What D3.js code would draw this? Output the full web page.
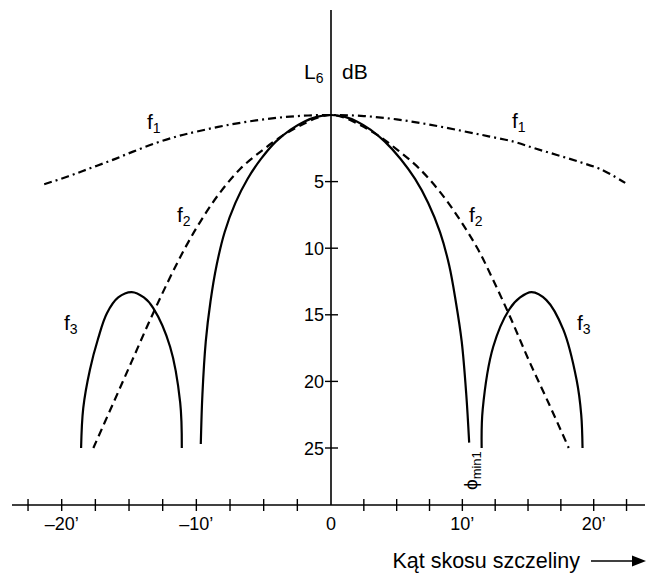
<!DOCTYPE html>
<html>
<head>
<meta charset="utf-8">
<script src="https://cdn.jsdelivr.net/npm/d3@7"></script>
<style>
  html, body { margin: 0; padding: 0; background: #fff; }
  svg { display: block; }
  text { font-family: "Liberation Sans", Arial, Helvetica, sans-serif; fill: #000; }
</style>
</head>
<body>
<svg id="chart" width="654" height="574"></svg>
<script>
// ---- data (angle in minutes of arc, level in dB below maximum) ----
const f1Minutes = [-21.3, -19.5, -17.9, -16.3, -14.7, -13, -11.4, -10, -7.5, -5, -2.5, 0, 2.5, 5, 7.5, 10, 12, 13.9, 15.5, 17.2, 19, 20.6, 22.4];
const f1Db      = [5.2, 4.6, 4.0, 3.4, 2.75, 2.1, 1.6, 1.25, 0.72, 0.33, 0.08, 0, 0.08, 0.33, 0.72, 1.2, 1.6, 2.0, 2.5, 3.0, 3.55, 4.1, 5.1];

const f2Minutes = [-17.65, -16.2, -14.8, -13.4, -12.1, -10.9, -9.7, -8.3, -6.7, -5.1, -3.6, -2.2, -1, 0, 1, 2.2, 3.6, 5.1, 6.7, 8.4, 9.9, 11.2, 12.4, 13.7, 15.1, 16.6, 18.1];
const f2Db      = [25, 21.7, 18.5, 15.3, 12.5, 10.1, 8.0, 5.9, 4.0, 2.65, 1.55, 0.75, 0.2, 0, 0.2, 0.75, 1.55, 2.65, 4.0, 5.9, 8.0, 10.1, 12.5, 15.3, 18.5, 21.7, 25];

const mainMinutes = [-9.67, -9.55, -9.3, -8.95, -8.5, -7.9, -7.1, -6.2, -5.2, -4.1, -3, -2, -1, 0, 1, 2, 3, 4.1, 5.3, 6.4, 7.4, 8.3, 9.0, 9.5, 9.95, 10.3, 10.52];
const mainDb      = [24.7, 21, 17, 14, 11.3, 8.8, 6.6, 4.8, 3.3, 2.0, 1.1, 0.5, 0.12, 0, 0.12, 0.5, 1.1, 2.0, 3.3, 4.8, 6.6, 8.8, 11.3, 14, 17, 21, 24.6];

const f3LeftMinutes = [-18.56, -18.4, -17.9, -17.3, -16.65, -15.8, -14.8, -13.9, -13.2, -11.95, -11.2, -11.08];
const f3LeftDb      = [25, 22, 19.1, 16.8, 14.9, 13.7, 13.3, 13.7, 14.5, 17.4, 21.6, 25];

const f3RightMinutes = [11.47, 11.55, 12.35, 13.57, 14.4, 15.27, 16.4, 17.68, 18.7, 19.05, 19.15];
const f3RightDb      = [25, 22.1, 17.4, 14.6, 13.7, 13.3, 13.9, 16.1, 19.9, 22.5, 25];

const xMajorTicks = [-20, -10, 0, 10, 20];
const xMajorLabels = ["–20’", "–10’", "0", "10’", "20’"];
const xMinorTicks = [-22.5, -17.5, -15, -12.5, -7.5, -5, -2.5, 2.5, 5, 7.5, 12.5, 15, 17.5, 22.5];
const yTicks = [5, 10, 15, 20, 25];

// ---- scales ----
const svg = d3.select("#chart");
const x = d3.scaleLinear().domain([-20, 0, 20]).range([61.7, 331, 593.7]);
const y = d3.scaleLinear().domain([0, 25]).range([115, 448]);
const axisY = 505;

// ---- axes ----
svg.append("line").attr("x1", 12).attr("x2", 645).attr("y1", axisY).attr("y2", axisY)
  .attr("stroke", "#000").attr("stroke-width", 1.6);
svg.append("line").attr("x1", x(0)).attr("x2", x(0)).attr("y1", 10).attr("y2", axisY)
  .attr("stroke", "#000").attr("stroke-width", 1.6);

const xt = xMajorTicks.filter(d => d !== 0).concat(xMinorTicks.filter(d => x(d) > 14 && x(d) < 643));
svg.append("g").selectAll("line").data(xt).join("line")
  .attr("x1", d => x(d)).attr("x2", d => x(d))
  .attr("y1", axisY - 6).attr("y2", axisY + 6)
  .attr("stroke", "#000").attr("stroke-width", 1.4);

svg.append("g").selectAll("text").data(xMajorTicks).join("text")
  .attr("x", d => x(d)).attr("y", axisY + 25)
  .attr("text-anchor", "middle").attr("font-size", 18)
  .text((d, i) => xMajorLabels[i]);

svg.append("g").selectAll("line").data(yTicks).join("line")
  .attr("x1", x(0) - 6).attr("x2", x(0) + 7)
  .attr("y1", d => y(d)).attr("y2", d => y(d))
  .attr("stroke", "#000").attr("stroke-width", 1.4);
svg.append("g").selectAll("text").data(yTicks).join("text")
  .attr("x", x(0) - 7).attr("y", d => y(d) + 6.5)
  .attr("text-anchor", "end").attr("font-size", 18)
  .text(d => d);

// axis titles
const lt = svg.append("text").attr("x", 304).attr("y", 79).attr("font-size", 21);
lt.append("tspan").text("L");
lt.append("tspan").attr("font-size", 14).attr("dy", 4).text("6");
svg.append("text").attr("x", 342).attr("y", 79).attr("font-size", 21).text("dB");

svg.append("text").attr("x", 580).attr("y", 568).attr("font-size", 21.5)
  .attr("text-anchor", "end").text("Kąt skosu szczeliny");
svg.append("line").attr("x1", 591).attr("x2", 634).attr("y1", 561).attr("y2", 561)
  .attr("stroke", "#000").attr("stroke-width", 1.5);
svg.append("path").attr("d", "M646,561 L632,555.5 L632,566.5 Z").attr("fill", "#000");

// ---- curves ----
const line = d3.line().x(d => x(d[0])).y(d => y(d[1])).curve(d3.curveCatmullRom.alpha(0.5));
const zip = (a, b) => a.map((v, i) => [v, b[i]]);

svg.append("path").datum(zip(f1Minutes, f1Db)).attr("d", line)
  .attr("fill", "none").attr("stroke", "#000").attr("stroke-width", 2.2)
  .attr("stroke-dasharray", "8,4,2,4");
svg.append("path").datum(zip(f2Minutes, f2Db)).attr("d", line)
  .attr("fill", "none").attr("stroke", "#000").attr("stroke-width", 2.2)
  .attr("stroke-dasharray", "8,5");
[zip(mainMinutes, mainDb), zip(f3LeftMinutes, f3LeftDb), zip(f3RightMinutes, f3RightDb)].forEach(s => {
  svg.append("path").datum(s).attr("d", line)
    .attr("fill", "none").attr("stroke", "#000").attr("stroke-width", 2.2);
});

// ---- curve labels ----
function flabel(px, py, sub) {
  const t = svg.append("text").attr("x", px).attr("y", py).attr("font-size", 21);
  t.append("tspan").text("f");
  t.append("tspan").attr("font-size", 14).attr("dy", 4).text(sub);
}
flabel(147, 129, "1");
flabel(512, 128, "1");
flabel(177, 222, "2");
flabel(469, 222, "2");
flabel(64, 330, "3");
flabel(577, 330, "3");

// phi_min1 (rotated)
const pt = svg.append("text").attr("transform", "translate(477,490) rotate(-90)").attr("font-size", 19);
pt.append("tspan").text("ϕ");
pt.append("tspan").attr("font-size", 13).attr("dy", 4).text("min1");
</script>
</body>
</html>
